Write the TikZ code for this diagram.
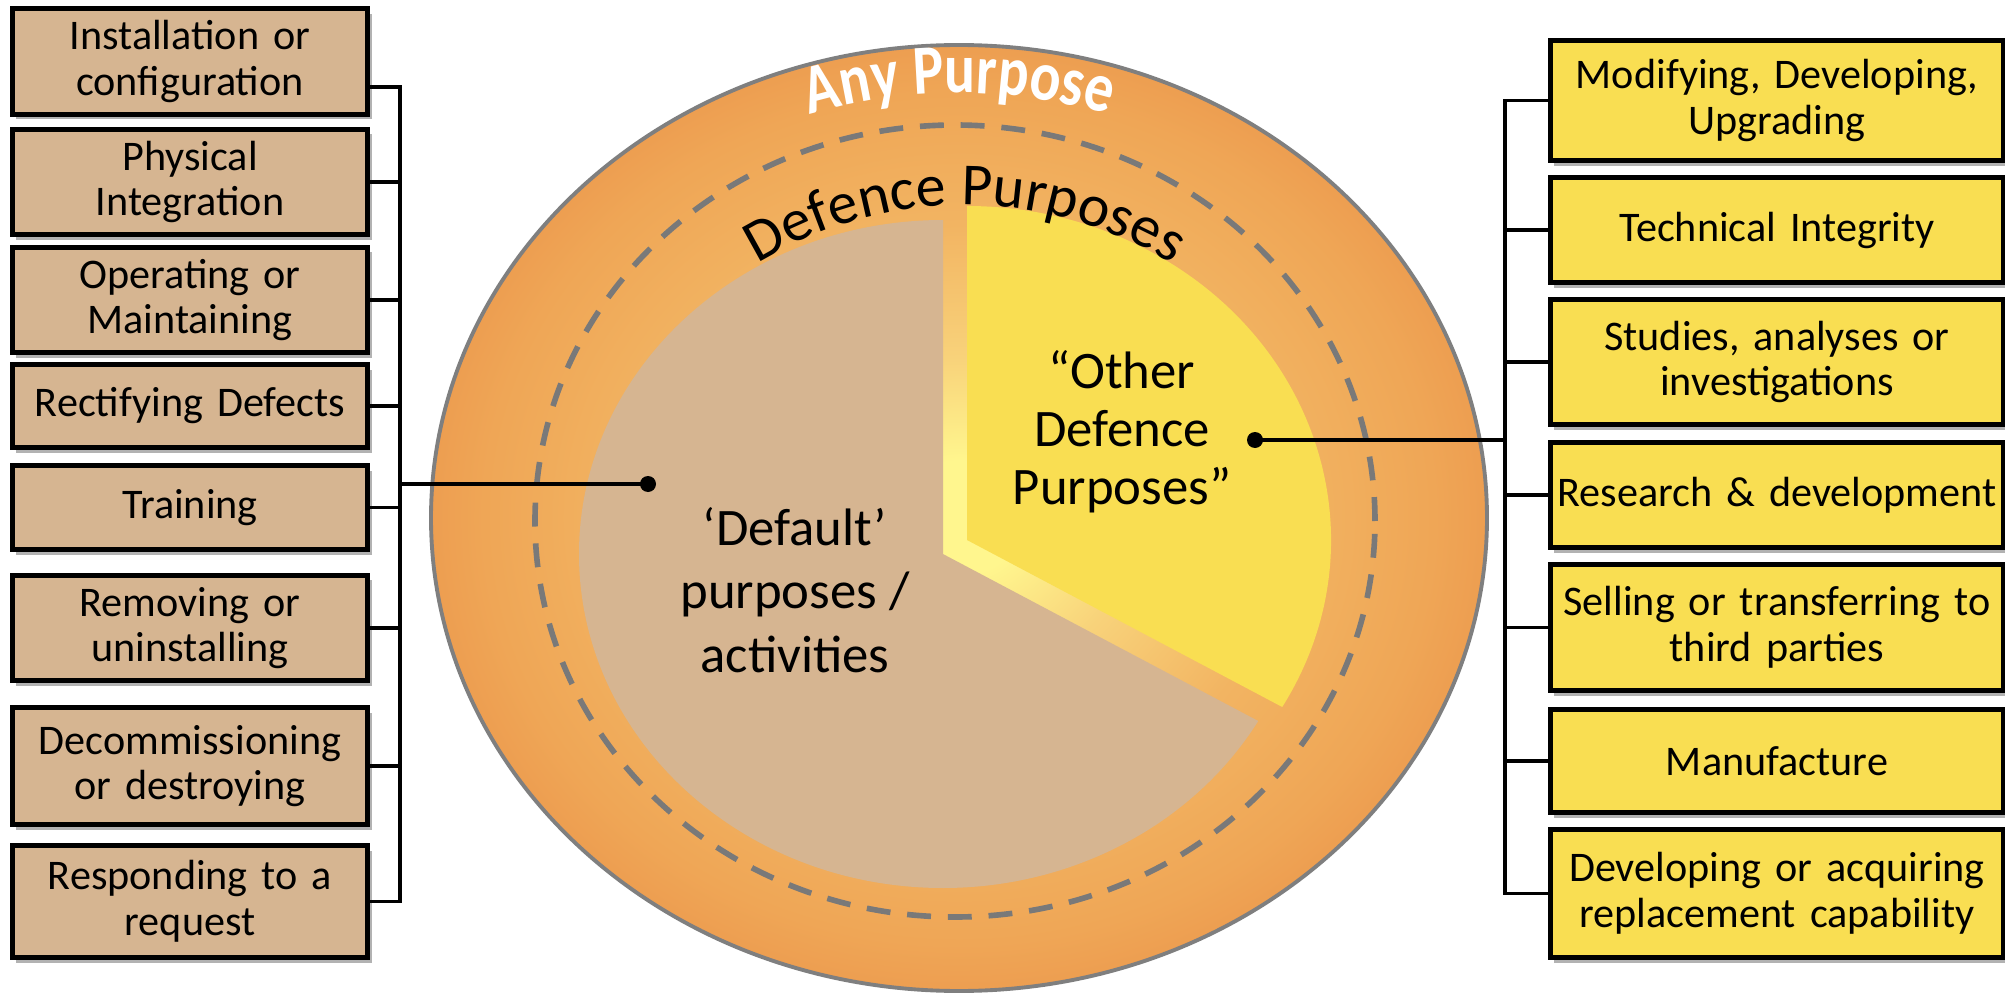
\documentclass[tikz,border=0pt]{standalone}
\usepackage{fontspec}
\setmainfont{Carlito}
\newfontfamily\ringfont[FakeStretch=0.82]{Carlito}
\usepackage{tikz}
\usetikzlibrary{shapes,shadows,decorations.text}
\definecolor{tanfill}{HTML}{D6B591}
\definecolor{yelfill}{HTML}{F9DE52}
\definecolor{rimgray}{HTML}{7F7F7F}
\definecolor{ringa}{HTML}{FFF68E}
\definecolor{ringb}{HTML}{F8D27A}
\definecolor{ringc}{HTML}{F2B462}
\definecolor{ringd}{HTML}{EFA656}
\definecolor{ringe}{HTML}{EA9148}
\definecolor{ringf}{HTML}{E57B33}
\pgfdeclareradialshading{ringshade}{\pgfpoint{0bp}{0bp}}{color(0bp)=(ringa); color(3bp)=(ringa); color(8.5bp)=(ringb); color(15.5bp)=(ringc); color(22.5bp)=(ringd); color(29bp)=(ringe); color(35.4bp)=(ringf); color(50bp)=(ringf)}
\tikzset{
  purposebox/.style={rectangle, draw, line width=1.4pt, align=center, inner xsep=0.5mm, font=\fontsize{12}{13}\selectfont, drop shadow={shadow xshift=0.4mm, shadow yshift=-0.5mm, opacity=0.3, fill=black}},
  defaultbox/.style={purposebox, fill=tanfill, minimum width=3.55cm, text width=3.45cm},
  otherbox/.style={purposebox, fill=yelfill, minimum width=4.535cm, text width=4.43cm},
  link/.style={line width=1.1pt},
  linkdot/.style={circle, fill=black, inner sep=0pt, minimum size=1.6mm},
}
\newcommand{\defaultnode}[4] {\node at (#1) (#2) [defaultbox, minimum height=#3cm] {#4};}
\newcommand{\othernode}[4] {\node at (#1) (#2) [otherbox, minimum height=#3cm] {#4};}
\newcommand{\defaultlink}[1] {\draw [link] (#1) -- (#1 -| lbar);}
\newcommand{\otherlink}[1] {\draw [link] (#1.west) -- (#1.west -| rbar);}

\begin{document}
\begin{tikzpicture}
\useasboundingbox (0,0) rectangle (20.05,9.92);
\coordinate (ring) at (9.59,4.74);
\coordinate (fence) at (9.55,4.71);
\coordinate (dcore) at (9.43,4.38);
\coordinate (ocore) at (9.67,4.52);
\coordinate (dtext) at (9.65,3.92);
\coordinate (lbar) at (4.00,5.08);
\coordinate (rbar) at (15.05,5.52);

\shadedraw [shading=ringshade, draw=rimgray, line width=1.1pt] (ring) ellipse [x radius=5.28, y radius=4.73];
\draw [rimgray!95!black, line width=1.6pt, dash pattern=on 6.8pt off 4.8pt] (fence) ellipse [x radius=4.20, y radius=3.96];
\fill [tanfill] (dcore) -- ++(0,3.34) arc [start angle=90, end angle=330, x radius=3.64, y radius=3.34] -- cycle;
\fill [yelfill] (ocore) -- ++(-30:3.64cm and 3.34cm) arc [start angle=-30, end angle=90, x radius=3.64, y radius=3.34] -- cycle;

\path [decorate, decoration={text along path, text align=center, text={|\color{white}\ringfont\bfseries\fontsize{20}{20}\selectfont|Any Purpose}}] ([shift={(160:4.76cm and 4.25cm)}]ring) arc [start angle=160, end angle=20, x radius=4.76, y radius=4.25];
\path [decorate, decoration={text along path, text align=center, text={|\fontsize{17}{17}\selectfont|Defence Purposes}}] ([shift={(145:3.95cm)}]dtext) arc [start angle=145, end angle=35, radius=3.95];

\node at (7.95,4.02) (deflt) [align=center, font=\fontsize{15}{18}\selectfont] {‘Default’\\purposes /\\activities};
\node at (11.22,5.60) (other) [align=center, font=\fontsize{15}{16.5}\selectfont] {“Other\\Defence\\Purposes”};

\defaultnode {1.90,9.305} {inst} {0.98} {Installation or\\configuration};
\defaultnode {1.90,8.10} {phys} {1.05} {Physical\\Integration};
\defaultnode {1.90,6.92} {oper} {0.95} {Operating or\\Maintaining};
\defaultnode {1.90,5.86} {rect} {0.83} {Rectifying Defects};
\defaultnode {1.90,4.845} {train} {0.84} {Training};
\defaultnode {1.90,3.64} {remov} {1.05} {Removing or\\uninstalling};
\defaultnode {1.90,2.26} {decom} {1.17} {Decommissioning\\or destroying};
\defaultnode {1.90,0.905} {resp} {1.12} {Responding to a\\request};

\othernode {17.77,8.915} {modif} {1.20} {Modifying, Developing,\\Upgrading};
\othernode {17.77,7.62} {tech} {1.05} {Technical Integrity};
\othernode {17.77,6.30} {study} {1.25} {Studies, analyses or\\investigations};
\othernode {17.77,4.97} {resdev} {1.05} {Research \& development};
\othernode {17.77,3.645} {sell} {1.26} {Selling or transferring to\\third parties};
\othernode {17.77,2.31} {manuf} {1.03} {Manufacture};
\othernode {17.77,0.985} {repl} {1.28} {Developing or acquiring\\replacement capability};

\node at (6.48,5.08) (ldot) [linkdot] {};
\node at (12.55,5.52) (rdot) [linkdot] {};

\coordinate (istub) at ([yshift=-2.55mm]inst.east);
\defaultlink{istub};
\defaultlink{phys.east};
\defaultlink{oper.east};
\defaultlink{rect.east};
\defaultlink{train.east};
\defaultlink{remov.east};
\defaultlink{decom.east};
\defaultlink{resp.east};
\draw [link, line cap=rect] (istub -| lbar) -- (resp.east -| lbar);
\draw [link] (lbar) -- (ldot.center);

\otherlink{modif};
\otherlink{tech};
\otherlink{study};
\otherlink{resdev};
\otherlink{sell};
\otherlink{manuf};
\otherlink{repl};
\draw [link, line cap=rect] (modif.west -| rbar) -- (repl.west -| rbar);
\draw [link] (rbar) -- (rdot.center);
\end{tikzpicture}
\end{document}
